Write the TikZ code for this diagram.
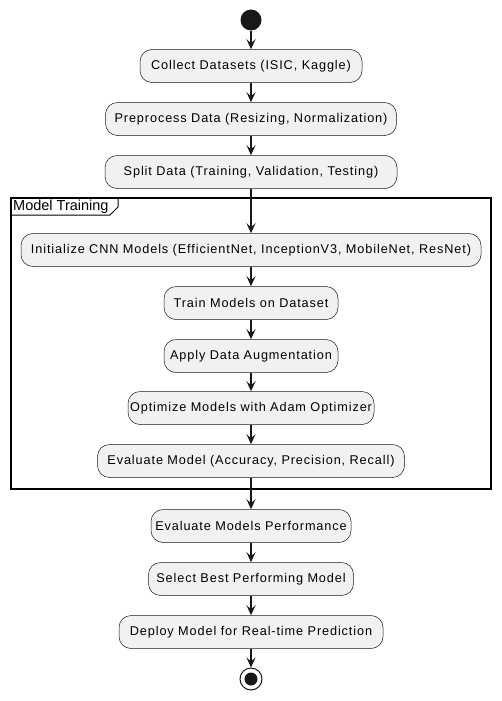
\documentclass[tikz,border=0pt]{standalone}
\usepackage{fontspec}
\setmainfont{Liberation Sans}
\newfontfamily\actfont{Liberation Sans}[LetterSpace=7]
\usetikzlibrary{arrows.meta}
\definecolor{boxfill}{HTML}{F1F1F1}
\definecolor{ink}{HTML}{181818}
\begin{document}
\begin{tikzpicture}[x=1pt,y=-1pt,
  act/.style={draw=ink, line width=0.5pt, fill=boxfill, rounded corners=12pt,
    minimum height=33pt, inner sep=0pt, font=\actfont\fontsize{12.7}{15}\selectfont, text=black},
  flow/.style={draw=ink, line width=1.2pt, -{Stealth[length=10pt,width=9pt,inset=4pt]}},
  frame/.style={draw=black, line width=1.5pt}]
\useasboundingbox (0,0) rectangle (502,701);
% partition frame
\draw[frame] (11,198) rectangle (491,489);
\draw[line width=1pt, draw=black] (11,215) -- (110,215) -- (118,207) -- (118,198);
\node[anchor=west, font=\fontsize{14.5}{16}\selectfont, inner sep=0pt] (ptitle) at (13,207) {Model Training};
% start
\node[circle, fill=ink, minimum size=21pt, inner sep=0pt] (start) at (251,20) {};
\node[act, minimum width=222pt] (a1) at (251,66) {Collect Datasets (ISIC, Kaggle)};
\node[act, minimum width=291pt] (a2) at (251,119) {Preprocess Data (Resizing, Normalization)};
\node[act, minimum width=292pt] (a3) at (251,172) {Split Data (Training, Validation, Testing)};
\node[act, minimum width=460pt] (a4) at (251,250) {Initialize CNN Models (EfficientNet, InceptionV3, MobileNet, ResNet)};
\node[act, minimum width=174pt] (a5) at (251,303) {Train Models on Dataset};
\node[act, minimum width=174pt] (a6) at (251,356) {Apply Data Augmentation};
\node[act, minimum width=246pt] (a7) at (251,408) {Optimize Models with Adam Optimizer};
\node[act, minimum width=307pt] (a8) at (251,461) {Evaluate Model (Accuracy, Precision, Recall)};
\node[act, minimum width=200pt] (a9) at (251,526) {Evaluate Models Performance};
\node[act, minimum width=205pt] (a10) at (251,579) {Select Best Performing Model};
\node[act, minimum width=264pt] (a11) at (251,632) {Deploy Model for Real-time Prediction};
% end
\node[circle, draw=ink, line width=1pt, fill=white, minimum size=22pt, inner sep=0pt] (stop) at (251,679) {};
\node[circle, fill=ink, minimum size=13pt, inner sep=0pt] (stopin) at (stop.center) {};
% connectors
\draw[flow] (start) -- (a1);
\draw[flow] (a1) -- (a2);
\draw[flow] (a2) -- (a3);
\draw[flow] (a3) -- (a4);
\draw[flow] (a4) -- (a5);
\draw[flow] (a5) -- (a6);
\draw[flow] (a6) -- (a7);
\draw[flow] (a7) -- (a8);
\draw[flow] (a8) -- (a9);
\draw[flow] (a9) -- (a10);
\draw[flow] (a10) -- (a11);
\draw[flow] (a11) -- (stop);
\end{tikzpicture}
\end{document}
